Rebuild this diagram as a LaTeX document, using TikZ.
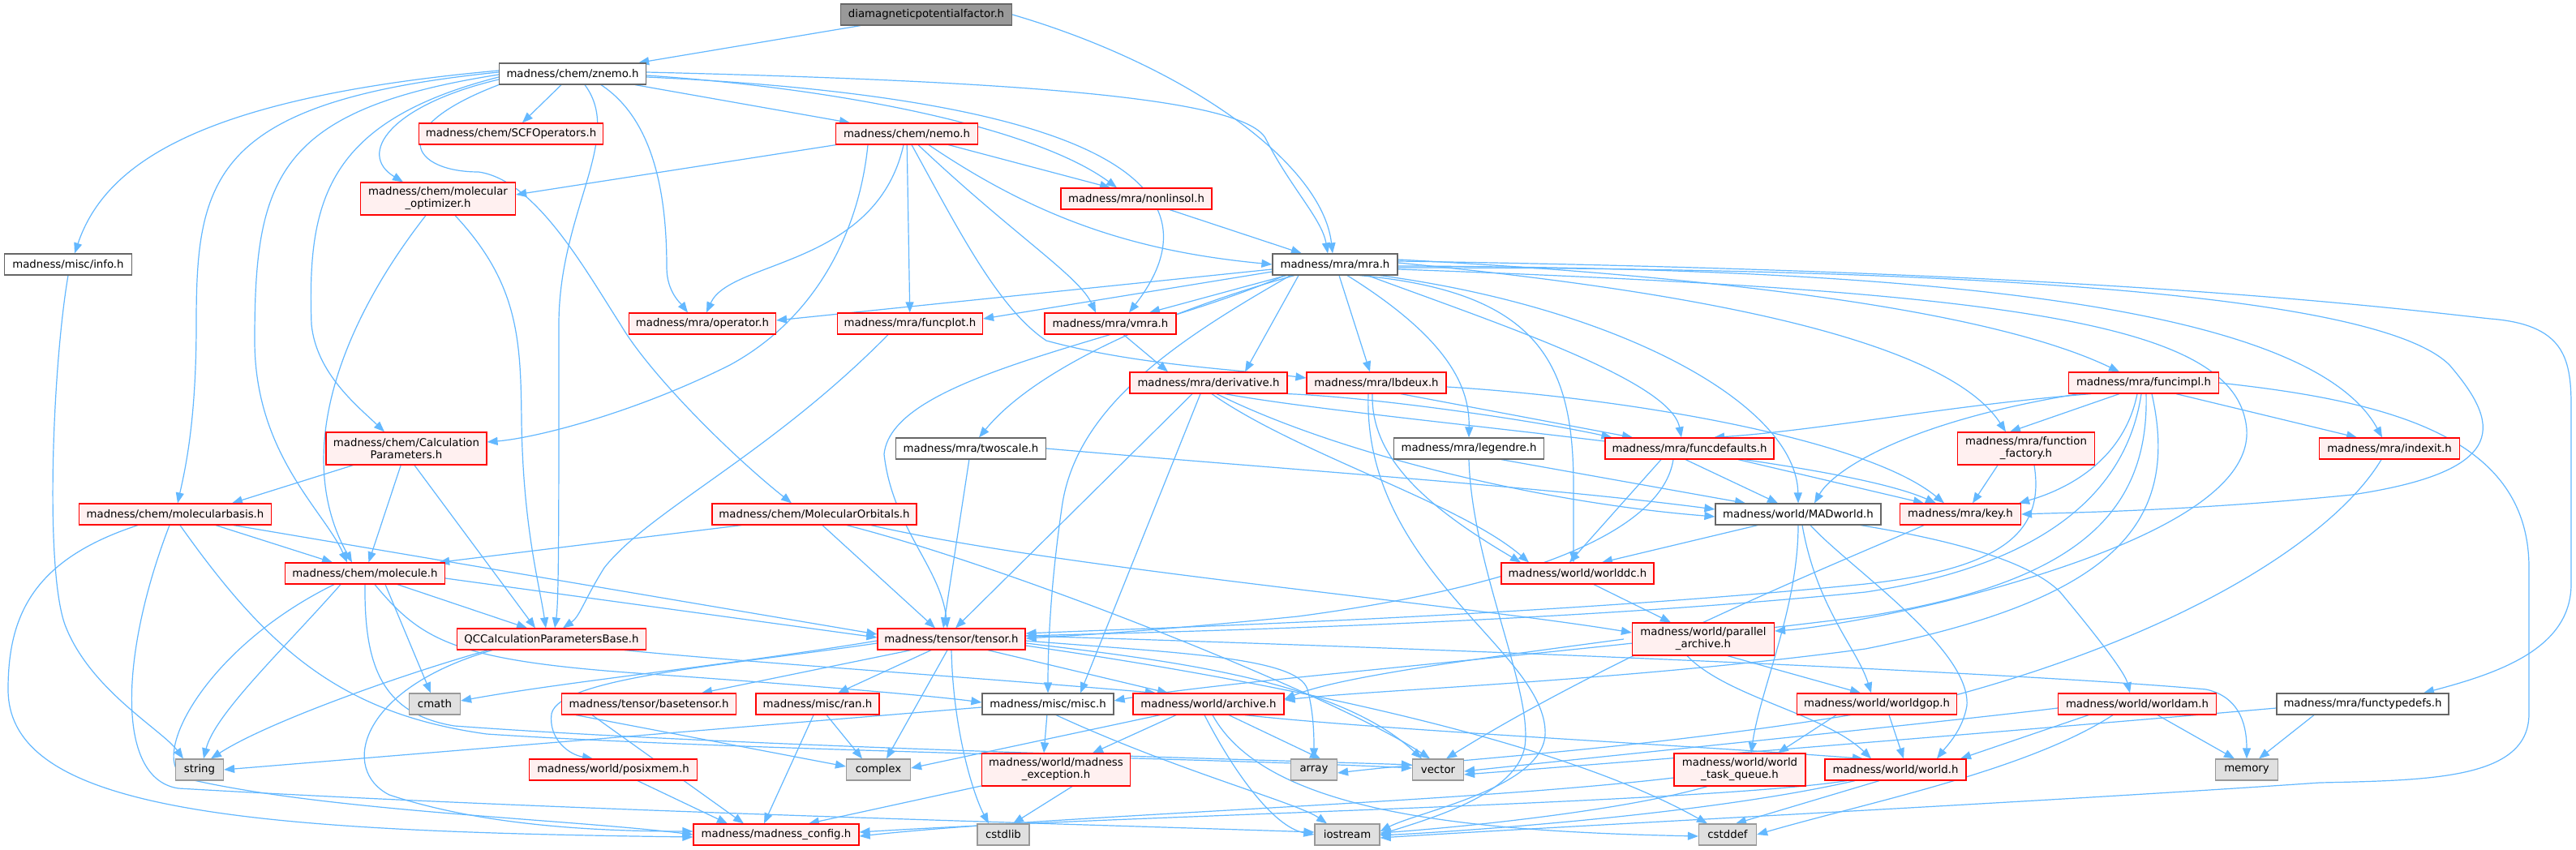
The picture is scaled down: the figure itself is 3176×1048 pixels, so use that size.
\documentclass[tikz,border=0pt]{standalone}
\usepackage{fontspec}
\setmainfont{DejaVu Sans}
\usetikzlibrary{arrows.meta}
\definecolor{edgec}{HTML}{63B8FF}
\definecolor{redfill}{HTML}{FFF0F0}
\definecolor{grayfill}{HTML}{E0E0E0}
\definecolor{grayline}{HTML}{999999}
\definecolor{darkline}{HTML}{666666}
\definecolor{topfill}{HTML}{999999}
\pgfdeclarelayer{bgl}
\pgfdeclarelayer{edgel}
\pgfsetlayers{bgl,edgel,main}
\begin{document}
\begin{tikzpicture}[x=1pt,y=-1pt,
  box/.style={rectangle, inner xsep=1pt, inner ysep=0pt, align=center, line width=1.2pt, font=\fontsize{13.3}{15}\selectfont, text=black},
  rbox/.style={box, draw=red, fill=redfill},
  gbox/.style={box, draw=grayline, fill=grayfill},
  wbox/.style={box, draw=darkline, fill=white},
  tbox/.style={box, draw=darkline, fill=topfill},
  sz/.style 2 args={minimum width=#1pt, minimum height=#2pt},
  e/.style={draw=edgec, line width=1.2pt, -{Triangle[length=13pt,width=10pt]}}]
\begin{pgfonlayer}{bgl}
\fill[white] (0,0) rectangle (3176,1048);
\end{pgfonlayer}
\useasboundingbox (0,0) rectangle (3176,1048);
% nodes
\node[tbox,sz={211}{26}] (diamag) at (1142,18) {diamagneticpotentialfactor.h};
\node[wbox,sz={181}{26}] (znemo) at (706,91) {madness/chem/znemo.h};
\node[rbox,sz={227}{26}] (scf) at (630,165) {madness/chem/SCFOperators.h};
\node[rbox,sz={175}{26}] (nemo) at (1118,165) {madness/chem/nemo.h};
\node[rbox,sz={191}{40}] (mopt) at (540,245) {madness/chem/molecular\\\_optimizer.h};
\node[rbox,sz={186}{26}] (nonlin) at (1401,245) {madness/mra/nonlinsol.h};
\node[wbox,sz={157}{26}] (info) at (84,326) {madness/misc/info.h};
\node[wbox,sz={154}{26}] (mra) at (1646,326) {madness/mra/mra.h};
\node[rbox,sz={181}{26}] (op) at (866,399) {madness/mra/operator.h};
\node[rbox,sz={179}{26}] (fplot) at (1122,399) {madness/mra/funcplot.h};
\node[rbox,sz={162}{26}] (vmra) at (1369,399) {madness/mra/vmra.h};
\node[rbox,sz={172}{26}] (lbdeux) at (1697,472) {madness/mra/lbdeux.h};
\node[rbox,sz={194}{26}] (deriv) at (1490,472) {madness/mra/derivative.h};
\node[rbox,sz={185}{26}] (fimpl) at (2643,472) {madness/mra/funcimpl.h};
\node[rbox,sz={198}{40}] (cp) at (501,553) {madness/chem/Calculation\\Parameters.h};
\node[wbox,sz={185}{26}] (twoscale) at (1197,553) {madness/mra/twoscale.h};
\node[wbox,sz={185}{26}] (legendre) at (1811,553) {madness/mra/legendre.h};
\node[rbox,sz={208}{26}] (fdef) at (2083,553) {madness/mra/funcdefaults.h};
\node[rbox,sz={169}{40}] (ff) at (2498,553) {madness/mra/function\\\_factory.h};
\node[rbox,sz={173}{26}] (indexit) at (2946,553) {madness/mra/indexit.h};
\node[rbox,sz={237}{26}] (mb) at (216,634) {madness/chem/molecularbasis.h};
\node[rbox,sz={252}{26}] (mo) at (1004,634) {madness/chem/MolecularOrbitals.h};
\node[wbox,sz={204}{26}] (madw) at (2217,634) {madness/world/MADworld.h};
\node[rbox,sz={149}{26}] (key) at (2417,634) {madness/mra/key.h};
\node[rbox,sz={197}{26}] (mol) at (450,707) {madness/chem/molecule.h};
\node[rbox,sz={188}{26}] (wdc) at (1945,707) {madness/world/worlddc.h};
\node[rbox,sz={233}{26}] (qc) at (680,788) {QCCalculationParametersBase.h};
\node[rbox,sz={182}{26}] (tensor) at (1173,788) {madness/tensor/tensor.h};
\node[rbox,sz={175}{40}] (par) at (2100,788) {madness/world/parallel\\\_archive.h};
\node[gbox,sz={63}{26}] (cmath) at (536,868) {cmath};
\node[rbox,sz={215}{26}] (btensor) at (800,868) {madness/tensor/basetensor.h};
\node[rbox,sz={152}{26}] (ran) at (1008,868) {madness/misc/ran.h};
\node[wbox,sz={162}{26}] (misc) at (1292,868) {madness/misc/misc.h};
\node[rbox,sz={186}{26}] (archive) at (1490,868) {madness/world/archive.h};
\node[rbox,sz={197}{26}] (wgop) at (2314,868) {madness/world/worldgop.h};
\node[rbox,sz={195}{26}] (wam) at (2635,868) {madness/world/worldam.h};
\node[wbox,sz={212}{26}] (ftd) at (2913,868) {madness/mra/functypedefs.h};
\node[gbox,sz={59}{26}] (string) at (246,949) {string};
\node[rbox,sz={207}{26}] (posix) at (756,949) {madness/world/posixmem.h};
\node[gbox,sz={79}{26}] (complex) at (1083,949) {complex};
\node[rbox,sz={183}{40}] (mexc) at (1302,949) {madness/world/madness\\\_exception.h};
\node[gbox,sz={57}{26}] (array) at (1620,949) {array};
\node[gbox,sz={63}{26}] (vector) at (1773,949) {vector};
\node[rbox,sz={162}{40}] (wtq) at (2145,949) {madness/world/world\\\_task\_queue.h};
\node[rbox,sz={174}{26}] (world) at (2337,949) {madness/world/world.h};
\node[gbox,sz={77}{26}] (memory) at (2770,949) {memory};
\node[rbox,sz={204}{26}] (cfg) at (957,1029) {madness/madness\_config.h};
\node[gbox,sz={64}{26}] (cstdlib) at (1237,1029) {cstdlib};
\node[gbox,sz={80}{26}] (ios) at (1661,1029) {iostream};
\node[gbox,sz={71}{26}] (cstddef) at (2130,1029) {cstddef};
% edges
\begin{pgfonlayer}{edgel}
\draw[e] (diamag) -- (znemo);
\draw[e] (diamag.east) .. controls (1460,80) and (1630,200) .. ([xshift=-3pt]mra.north);
\draw[e] ([yshift=2pt]znemo.east) .. controls (1250,100) and (1530,120) .. (1560,170) .. controls (1590,230) and (1630,270) .. ([xshift=-9pt]mra.north);
\draw[e] (znemo) -- (scf);
\draw[e] (znemo) -- ([xshift=-70pt]nemo.north);
\draw[e] ([yshift=-2pt]znemo.east) .. controls (1050,110) and (1280,160) .. ([xshift=-24pt]nonlin.north);
\draw[e] ([yshift=-4pt]znemo.east) .. controls (1330,120) and (1520,220) .. ([xshift=23pt]vmra.north);
\draw[e] ([yshift=4pt]znemo.west) .. controls (250,120) and (130,200) .. ([xshift=8pt]info.north);
\draw[e] ([yshift=2pt]znemo.west) .. controls (260,125) and (242,220) .. (242,400) .. controls (242,520) and (228,580) .. ([xshift=3pt]mb.north);
\draw[e] ([yshift=-1pt]znemo.west) .. controls (340,135) and (314,220) .. (314,420) .. controls (314,560) and (400,630) .. ([xshift=-22pt]mol.north);
\draw[e] ([yshift=-4pt]znemo.west) .. controls (400,150) and (379,250) .. (384,400) .. controls (390,460) and (440,500) .. ([xshift=-27pt]cp.north);
\draw[e] ([yshift=-7pt]znemo.west) .. controls (480,130) and (440,190) .. ([xshift=-43pt]mopt.north);
\draw[e] (znemo.south west) .. controls (470,160) and (510,212) .. (590,212) .. controls (660,222) and (720,330) .. (765,400) .. controls (800,460) and (900,560) .. ([xshift=-28pt]mo.north);
\draw[e] ([xshift=15pt]znemo.south) .. controls (770,170) and (689,260) .. (689,400) .. controls (689,650) and (689,740) .. ([xshift=4pt]qc.north);
\draw[e] ([xshift=35pt]znemo.south) .. controls (810,150) and (822,250) .. (822,330) .. controls (822,360) and (840,375) .. ([xshift=-18pt]op.north);
% nemo
\draw[e] (nemo) -- ([yshift=5pt]mopt.east);
\draw[e] ([xshift=-48pt]nemo.south) .. controls (1060,280) and (1010,390) .. (900,450) .. controls (780,510) and (660,540) .. ([yshift=8pt]cp.east);
\draw[e] ([xshift=-4pt]nemo.south) .. controls (1080,330) and (900,320) .. ([xshift=5pt]op.north);
\draw[e] (nemo) -- (fplot);
\draw[e] ([xshift=6pt]nemo.south) .. controls (1180,280) and (1230,380) .. (1290,420) .. controls (1400,450) and (1520,455) .. ([yshift=6pt]lbdeux.west);
\draw[e] ([xshift=14pt]nemo.south) .. controls (1250,290) and (1330,340) .. ([xshift=-18pt]vmra.north);
\draw[e] (nemo) -- ([xshift=-32pt]nonlin.north);
\draw[e] ([xshift=27pt]nemo.south) .. controls (1280,270) and (1400,310) .. (mra.west);
\draw[e] (nonlin) -- (mra);
% molecular optimizer, info, CP
\draw[e] ([xshift=-15pt]mopt.south) .. controls (420,400) and (360,560) .. ([xshift=-16pt]mol.north);
\draw[e] ([xshift=21pt]mopt.south) .. controls (640,350) and (642,420) .. (643,520) .. controls (645,650) and (665,720) .. ([xshift=-7pt]qc.north);
\draw[e] (info.south) .. controls (65,450) and (55,700) .. (80,770) .. controls (110,850) and (200,900) .. ([xshift=-20pt]string.north);
\draw[e] (cp) -- ([xshift=70pt]mb.north);
\draw[e] (cp) -- (mol);
\draw[e] ([xshift=10pt]cp.south) -- ([xshift=-20pt]qc.north);
% molecularbasis
\draw[e] ([xshift=50pt]mb.south) -- ([xshift=-40pt]mol.north);
\draw[e] ([xshift=72pt]mb.south) -- ([yshift=6pt]tensor.west);
\draw[e] ([xshift=-46pt]mb.south) .. controls (40,690) and (10,760) .. (10,850) .. controls (10,1000) and (300,1025) .. ([yshift=-3pt]cfg.west);
\draw[e] ([xshift=-7pt]mb.south) .. controls (150,800) and (140,960) .. (220,972) .. controls (700,1000) and (1300,1015) .. ([yshift=3pt]ios.west);
\draw[e] ([xshift=6pt]mb.south) .. controls (330,800) and (420,880) .. (600,905) .. controls (900,925) and (1500,935) .. ([yshift=2pt]vector.west);
% molecule
\draw[e] ([xshift=-30pt]mol.south) .. controls (350,800) and (265,880) .. ([xshift=5pt]string.north);
\draw[e] ([xshift=25pt]mol.south) -- ([xshift=-5pt]cmath.north);
\draw[e] ([xshift=40pt]mol.south) -- ([xshift=-30pt]qc.north);
\draw[e] ([yshift=-6pt]mol.east) -- ([yshift=2pt]tensor.west);
\draw[e] ([xshift=12pt]mol.south) .. controls (520,790) and (560,815) .. (800,831) .. controls (1000,845) and (1150,858) .. ([yshift=2pt]misc.west);
\draw[e] ([xshift=-38pt]mol.south) .. controls (250,800) and (180,940) .. (230,960) .. controls (400,1000) and (700,1010) .. (cfg.west);
\draw[e] (mol.south) .. controls (449,820) and (470,880) .. (560,895) .. controls (900,920) and (1500,935) .. ([yshift=6pt]vector.west);
% QC
\draw[e] ([xshift=-78pt]qc.south) .. controls (500,830) and (330,890) .. ([xshift=14pt]string.north);
\draw[e] ([xshift=-73pt]qc.south) .. controls (440,850) and (420,950) .. (480,980) .. controls (600,1020) and (750,1025) .. ([yshift=4pt]cfg.west);
\draw[e] ([xshift=90pt]qc.south) .. controls (900,815) and (1200,835) .. ([xshift=-65pt]archive.north);
\draw[e] ([xshift=-27pt]fplot.south) .. controls (950,560) and (800,630) .. (745,700) .. controls (720,740) and (715,760) .. ([xshift=14pt]qc.north);
% tensor
\draw[e] ([yshift=-5pt]tensor.west) .. controls (900,820) and (690,835) .. (680,880) .. controls (676,910) and (700,930) .. ([xshift=-25pt]posix.north);
\draw[e] ([yshift=-2pt]tensor.west) .. controls (900,820) and (700,840) .. ([yshift=4pt]cmath.east);
\draw[e] ([xshift=-50pt]tensor.south) -- ([xshift=65pt]btensor.north);
\draw[e] ([xshift=-25pt]tensor.south) -- ([xshift=25pt]ran.north);
\draw[e] ([xshift=-5pt]tensor.south) -- ([xshift=10pt]complex.north);
\draw[e] (tensor.south) .. controls (1175,900) and (1200,980) .. ([xshift=-18pt]cstdlib.north);
\draw[e] ([xshift=45pt]tensor.south) -- ([xshift=-50pt]archive.north);
\draw[e] ([yshift=4pt]tensor.east) .. controls (1800,800) and (2500,830) .. (2720,850) .. controls (2765,860) and (2770,900) .. (memory.north);
\draw[e] ([yshift=-2pt]tensor.east) .. controls (1450,805) and (1600,810) .. (1612,850) .. controls (1620,880) and (1620,910) .. (array.north);
\draw[e] ([yshift=-5pt]tensor.east) .. controls (1450,815) and (1650,840) .. ([xshift=-20pt]vector.north);
\draw[e] ([yshift=-8pt]tensor.east) .. controls (1500,830) and (1900,900) .. ([xshift=-25pt]cstddef.north);
% misc, archive, lower
\draw[e] ([yshift=-4pt]misc.west) -- (string.east);
\draw[e] (misc) -- ([xshift=-15pt]mexc.north);
\draw[e] ([xshift=10pt]misc.south) .. controls (1450,950) and (1600,990) .. ([xshift=-25pt]ios.north);
\draw[e] ([xshift=-60pt]archive.south) -- ([yshift=2pt]complex.east);
\draw[e] ([xshift=-40pt]archive.south) -- ([xshift=45pt]mexc.north);
\draw[e] ([xshift=25pt]archive.south) -- ([xshift=8pt]array.north);
\draw[e] ([xshift=-5pt]archive.south) .. controls (1520,950) and (1570,1020) .. (ios.west);
\draw[e] ([xshift=5pt]archive.south) .. controls (1560,1000) and (1800,1025) .. ([yshift=-2pt]cstddef.west);
\draw[e] ([xshift=45pt]archive.south) .. controls (1700,900) and (2100,920) .. ([xshift=-40pt]world.north);
\draw[e] ([xshift=-90pt]btensor.south) -- ([yshift=4pt]complex.west);
\draw[e] ([xshift=-70pt]btensor.south) -- ([xshift=-40pt]cfg.north);
\draw[e] (ran) -- ([xshift=-20pt]complex.north);
\draw[e] ([xshift=-5pt]ran.south) -- ([xshift=-15pt]cfg.north);
\draw[e] ([xshift=30pt]posix.south) -- ([xshift=-60pt]cfg.north);
\draw[e] (mexc) -- ([xshift=40pt]cfg.north);
\draw[e] ([xshift=20pt]mexc.south) -- ([xshift=12pt]cstdlib.north);
% MolecularOrbitals
\draw[e] ([xshift=-90pt]mo.south) -- ([xshift=-8pt]mol.north east);
\draw[e] ([xshift=10pt]mo.south) -- ([xshift=-20pt]tensor.north);
\draw[e] ([xshift=40pt]mo.south) .. controls (1250,700) and (1650,860) .. ([xshift=-10pt]vector.north);
\draw[e] ([xshift=70pt]mo.south) .. controls (1300,700) and (1800,745) .. ([yshift=8pt]par.west);
\draw[e] (vmra) -- ([xshift=-50pt]deriv.north);
% twoscale, derivative
\draw[e] (twoscale) -- ([xshift=-10pt]tensor.north);
\draw[e] (twoscale.east) .. controls (1600,580) and (1900,600) .. ([yshift=6pt]madw.west);
\draw[e] (deriv.south east) .. controls (1700,490) and (1900,520) .. ([xshift=9pt]fdef.north west);
\draw[e] ([xshift=20pt]deriv.south) .. controls (1700,520) and (2250,560) .. ([xshift=-30pt]key.north);
\draw[e] ([xshift=4pt]deriv.south) .. controls (1600,560) and (1800,620) .. ([xshift=-60pt]wdc.north);
\draw[e] ([xshift=10pt]deriv.south) .. controls (1650,560) and (1900,620) .. ([yshift=-3pt]madw.west);
\draw[e] ([xshift=-20pt]deriv.south) -- ([xshift=5pt]tensor.north);
\draw[e] ([xshift=-10pt]deriv.south) -- ([xshift=40pt]misc.north);
% lbdeux, legendre, funcdefaults
\draw[e] ([xshift=30pt]lbdeux.south) -- ([xshift=-70pt]fdef.north);
\draw[e] ([yshift=-5pt]lbdeux.east) .. controls (2000,490) and (2300,540) .. ([xshift=-20pt]key.north);
\draw[e] ([xshift=-5pt]lbdeux.south) .. controls (1690,560) and (1750,620) .. ([xshift=-70pt]wdc.north);
\draw[e] ([xshift=-10pt]lbdeux.south) .. controls (1680,700) and (1900,800) .. (1905,900) .. controls (1910,970) and (1750,1000) .. ([yshift=4pt]ios.east);
\draw[e] ([xshift=40pt]legendre.south) -- ([xshift=-65pt]madw.north);
\draw[e] (legendre.south) .. controls (1815,700) and (1890,850) .. (1880,920) .. controls (1870,980) and (1760,1010) .. (ios.east);
\draw[e] ([xshift=-5pt]fdef.south) -- ([xshift=-25pt]madw.north);
\draw[e] ([xshift=60pt]fdef.south) -- ([xshift=-45pt]key.north);
\draw[e] ([xshift=-35pt]fdef.south) -- ([xshift=-10pt]wdc.north);
\draw[e] ([xshift=-20pt]fdef.south) .. controls (2050,650) and (1900,720) .. (1600,760) .. controls (1400,780) and (1300,785) .. ([yshift=1pt]tensor.east);
% funcimpl
\draw[e] ([xshift=-65pt]fimpl.south) .. controls (2400,500) and (2250,530) .. ([xshift=30pt]fdef.north);
\draw[e] ([xshift=-80pt]fimpl.south) .. controls (2350,520) and (2260,580) .. ([xshift=20pt]madw.north);
\draw[e] ([xshift=-30pt]fimpl.south) -- ([xshift=-20pt]ff.north);
\draw[e] ([xshift=-8pt]fimpl.south) .. controls (2620,560) and (2560,600) .. ([xshift=-3pt]key.north east);
\draw[e] ([xshift=40pt]fimpl.south) -- ([xshift=-40pt]indexit.north);
\draw[e] ([xshift=-3pt]fimpl.south) .. controls (2620,620) and (2500,700) .. (2300,730) .. controls (1900,770) and (1400,780) .. ([yshift=4pt]tensor.east);
\draw[e] ([xshift=3pt]fimpl.south) .. controls (2650,640) and (2550,720) .. (2300,760) .. controls (1900,810) and (1500,840) .. ([yshift=4pt]misc.east);
\draw[e] ([xshift=10pt]fimpl.south) .. controls (2690,650) and (2600,740) .. (2300,800) .. controls (2000,840) and (1700,850) .. ([yshift=5pt]archive.east);
\draw[e] (fimpl.east) .. controls (2950,495) and (3118,540) .. (3118,700) -- (3118,880) .. controls (3118,960) and (3000,962) .. (2860,965) .. controls (2500,990) and (1900,1020) .. ([yshift=-4pt]ios.east);
% mra
\draw[e] ([yshift=-6pt]mra.west) -- ([yshift=4pt]op.east);
\draw[e] ([yshift=-9pt]mra.west) -- ([yshift=6pt]fplot.east);
\draw[e] ([xshift=-60pt]mra.south) -- ([xshift=48pt]vmra.north);
\draw[e] ([xshift=-45pt]mra.south) -- ([xshift=45pt]deriv.north);
\draw[e] ([xshift=5pt]mra.south) -- ([xshift=-8pt]lbdeux.north);
\draw[e] ([xshift=15pt]mra.south) .. controls (1790,420) and (1812,480) .. (legendre.north);
\draw[e] ([xshift=-50pt]mra.south) .. controls (1450,380) and (1280,450) .. ([xshift=10pt]twoscale.north);
\draw[e] ([xshift=-62pt]mra.south) .. controls (1400,420) and (1100,460) .. (1090,560) .. controls (1100,650) and (1160,700) .. ([xshift=-5pt]tensor.north);
\draw[e] ([xshift=-55pt]mra.south) .. controls (1450,420) and (1330,500) .. (1310,620) .. controls (1295,720) and (1292,800) .. (misc.north);
\draw[e] ([xshift=40pt]mra.south) .. controls (1850,400) and (2060,470) .. ([xshift=-10pt]fdef.north);
\draw[e] ([xshift=55pt]mra.south) .. controls (2000,380) and (2215,500) .. (madw.north);
\draw[e] ([xshift=30pt]mra.south) .. controls (1900,360) and (1940,450) .. (1940,600) -- ([xshift=-5pt]wdc.north);
\draw[e] ([yshift=6pt]mra.east) .. controls (2100,340) and (2450,380) .. ([xshift=-30pt]fimpl.north);
\draw[e] ([yshift=2pt]mra.east) .. controls (2100,360) and (2400,420) .. ([xshift=-25pt]ff.north);
\draw[e] ([yshift=-2pt]mra.east) .. controls (2400,330) and (2850,380) .. ([xshift=-9pt]indexit.north);
\draw[e] ([yshift=-4pt]mra.east) .. controls (2600,330) and (2950,380) .. (3020,450) .. controls (3080,520) and (3100,580) .. (2900,610) .. controls (2700,630) and (2550,632) .. (key.east);
\draw[e] ([yshift=4pt]mra.east) .. controls (2600,335) and (2950,380) .. (3070,393) .. controls (3160,400) and (3170,440) .. (3170,500) -- (3170,720) .. controls (3170,800) and (3080,830) .. ([xshift=75pt]ftd.north);
\draw[e] ([yshift=-6pt]mra.east) .. controls (2500,360) and (2760,400) .. (2770,530) .. controls (2775,620) and (2600,690) .. (2400,741) .. controls (2300,765) and (2230,775) .. ([yshift=10pt]par.east);
% function factory, key, indexit
\draw[e] ([xshift=-35pt]ff.south) -- ([xshift=15pt]key.north);
\draw[e] ([xshift=10pt]ff.south) .. controls (2520,650) and (2480,700) .. (2300,720) .. controls (1900,760) and (1400,775) .. ([yshift=7pt]tensor.east);
\draw[e] ([xshift=-45pt]key.south) .. controls (2300,680) and (2000,800) .. ([xshift=10pt]vector.north);
\draw[e] ([xshift=-10pt]indexit.south) .. controls (2880,660) and (2700,780) .. (2400,860) .. controls (2100,920) and (1800,935) .. ([yshift=-4pt]array.east);
% world
\draw[e] ([xshift=-50pt]madw.south) -- ([xshift=30pt]wdc.north);
\draw[e] (madw.south) .. controls (2217,750) and (2170,850) .. ([xshift=14pt]wtq.north);
\draw[e] ([xshift=5pt]madw.south) .. controls (2240,750) and (2290,800) .. ([xshift=-7pt]wgop.north);
\draw[e] ([xshift=15pt]madw.south) .. controls (2280,700) and (2430,800) .. (2425,870) .. controls (2420,900) and (2400,920) .. ([xshift=51pt]world.north);
\draw[e] ([xshift=77pt]madw.south) .. controls (2400,665) and (2500,690) .. (2540,730) .. controls (2590,790) and (2620,830) .. ([xshift=-9pt]wam.north);
\draw[e] ([xshift=20pt]wdc.south) -- ([xshift=-40pt]par.north);
\draw[e] ([xshift=-10pt]par.west) .. controls (1800,815) and (1650,835) .. ([yshift=6pt]archive.east);
\draw[e] ([xshift=30pt]par.south) -- ([xshift=-20pt]wgop.north);
\draw[e] ([xshift=-20pt]par.south) .. controls (2130,860) and (2250,880) .. ([xshift=-30pt]world.north);
\draw[e] ([xshift=-50pt]wgop.south) -- ([xshift=47pt]wtq.north);
\draw[e] ([xshift=15pt]wgop.south) -- ([xshift=10pt]world.north);
\draw[e] ([xshift=-60pt]wam.south) -- ([xshift=80pt]world.north);
\draw[e] ([xshift=25pt]wam.south) -- ([xshift=-15pt]memory.north);
\draw[e] ([xshift=-30pt]wam.south) .. controls (2500,950) and (2300,990) .. (cstddef.east);
\draw[e] ([yshift=-5pt]wam.west) .. controls (2400,890) and (2000,930) .. ([yshift=-2pt]vector.east);
\draw[e] ([xshift=-60pt]ftd.south) -- ([xshift=15pt]memory.north);
\draw[e] ([yshift=-5pt]ftd.west) .. controls (2500,900) and (2000,940) .. ([yshift=-6pt]vector.east);
\draw[e] ([yshift=-10pt]wtq.west) .. controls (1800,990) and (1300,1005) .. ([yshift=-2pt]cfg.east);
\draw[e] ([xshift=-40pt]wtq.south) .. controls (2000,1000) and (1800,1020) .. ([yshift=2pt]ios.east);
\draw[e] ([xshift=-60pt]world.south) .. controls (2100,990) and (1400,1005) .. ([yshift=3pt]cfg.east);
\draw[e] ([xshift=-50pt]world.south) .. controls (2100,1005) and (1800,1025) .. ([yshift=-1pt]ios.east);
\draw[e] ([xshift=-20pt]world.south) -- ([xshift=10pt]cstddef.north);
\end{pgfonlayer}
\end{tikzpicture}
\end{document}
